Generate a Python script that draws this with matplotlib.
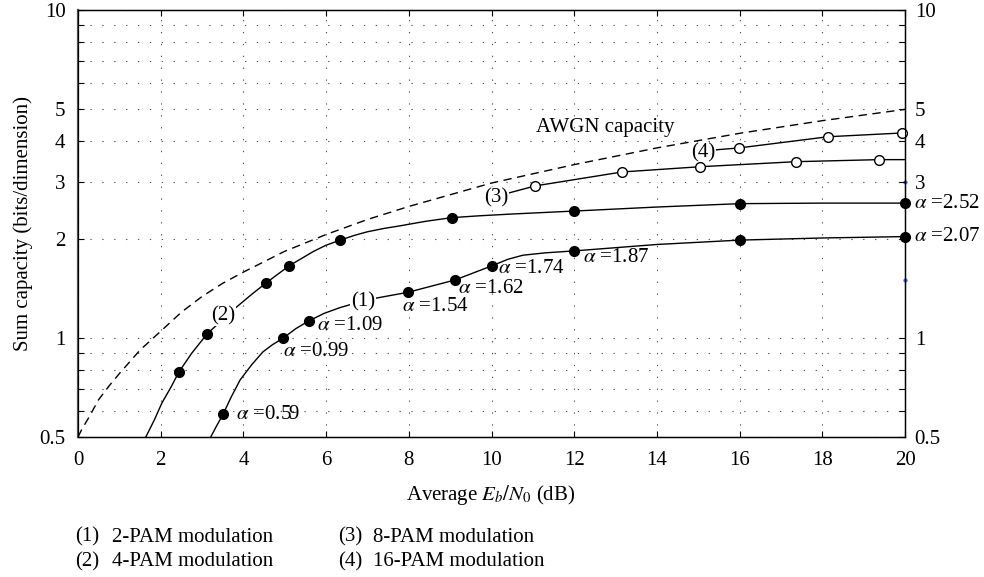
import numpy as np
import matplotlib
matplotlib.use("Agg")
import matplotlib.pyplot as plt
from matplotlib.ticker import FixedLocator, FixedFormatter, NullLocator

plt.rcParams['font.family'] = 'serif'
plt.rcParams['font.serif'] = ['Liberation Serif', 'DejaVu Serif']
plt.rcParams['mathtext.fontset'] = 'stix'

FS = 15

# AWGN capacity (dashed)
awgn_x = [0, 0.1, 0.25, 0.5, 0.75, 1, 1.5, 2, 2.5, 3, 3.5, 4, 5, 6, 7, 8, 10, 12, 14, 16, 18, 20]
awgn_y = [0.5, 0.53, 0.57, 0.65, 0.715, 0.78, 0.92, 1.05, 1.20, 1.34, 1.47, 1.59, 1.84, 2.07, 2.30, 2.52,
          2.97, 3.38, 3.80, 4.21, 4.60, 4.98]

# (1) 2-PAM
pam2_x = [3.21, 3.35, 3.51, 3.7, 3.92, 4.2, 4.47, 4.7, 4.96, 5.27, 5.59, 5.95, 6.34, 7.0, 7.98, 9.12,
          10.0, 10.4, 10.76, 11.3, 12, 14, 16, 18, 20]
pam2_y = [0.5, 0.54, 0.587, 0.66, 0.746, 0.83, 0.908, 0.955, 1.0, 1.07, 1.13, 1.19, 1.24, 1.31, 1.38, 1.505,
          1.66, 1.74, 1.79, 1.82, 1.845, 1.93, 1.99, 2.02, 2.04]
pam2_mx = [3.51, 4.96, 5.59, 7.98, 9.12, 10.0, 12, 16, 20]
pam2_my = [0.587, 1.0, 1.13, 1.38, 1.505, 1.66, 1.845, 1.99, 2.04]
pam2_alpha = ['0.59', '0.99', '1.09', '1.54', '1.62', '1.74', '1.87', '', '2.07']
pam2_off = [(9, 0), (0, -9.5), (6, -3.5), (-4, -10), (2, -6), (5, -2), (6, -5), (0, 0), (6.5, 0)]

# (2) 4-PAM
pam4_x = [1.64, 1.85, 2.03, 2.25, 2.44, 2.75, 3.12, 3.5, 3.82, 4.2, 4.55, 5.10, 5.7, 6.0, 6.34, 6.7,
          7.0, 7.4, 7.79, 8.4, 9.04, 9.7, 10.5, 12, 14, 16, 18, 20]
pam4_y = [0.5, 0.565, 0.635, 0.71, 0.789, 0.90, 1.03, 1.14, 1.24, 1.36, 1.474, 1.66, 1.84, 1.92, 1.99, 2.06,
          2.11, 2.16, 2.20, 2.27, 2.33, 2.36, 2.39, 2.44, 2.51, 2.57, 2.58, 2.58]
pam4_mx = [2.44, 3.12, 4.55, 5.10, 6.34, 9.04, 12, 16, 20]
pam4_my = [0.789, 1.03, 1.474, 1.66, 1.99, 2.33, 2.44, 2.57, 2.58]

# (3) 8-PAM
pam8_x = [10.42, 11.05, 13.16, 15.04, 17.36, 19.37, 20]
pam8_y = [2.77, 2.91, 3.21, 3.33, 3.45, 3.50, 3.50]
pam8_mx = [11.05, 13.16, 15.04, 17.36, 19.37]
pam8_my = [2.91, 3.21, 3.33, 3.45, 3.50]

# (4) 16-PAM
pam16_x = [15.43, 15.99, 18.14, 19.93]
pam16_y = [3.75, 3.80, 4.11, 4.22]

y_ticks = [0.5, 0.6, 0.7, 0.8, 0.9, 1, 2, 3, 4, 5, 6, 7, 8, 9, 10]
y_labels = ['0.5', '', '', '', '', '1', '2', '3', '4', '5', '', '', '', '', '10']
y_labels_right = ['0.5', '', '', '', '', '1', '', '3', '4', '5', '', '', '', '', '10']
x_ticks = [0, 2, 4, 6, 8, 10, 12, 14, 16, 18, 20]

fig = plt.figure(figsize=(9.84, 5.77), dpi=100)
ax = fig.add_axes([78 / 984, 1 - 437 / 577, (905 - 78) / 984, (437 - 10) / 577])

ax.set_yscale('log')
ax.set_xlim(0, 20)
ax.set_ylim(0.5, 10)

ax.plot(awgn_x, awgn_y, color='black', lw=1, dashes=(6, 4))
ax.plot(pam2_x, pam2_y, color='black', lw=1)
ax.plot(pam4_x, pam4_y, color='black', lw=1)
ax.plot(pam8_x, pam8_y, color='black', lw=1)
ax.plot(pam16_x, pam16_y, color='black', lw=1)

ax.plot(pam2_mx, pam2_my, 'o', color='black', ms=7, clip_on=False, zorder=5)
ax.plot(pam4_mx, pam4_my, 'o', color='black', ms=7, clip_on=False, zorder=5)
ax.plot(pam8_mx, pam8_my, 'o', mfc='white', mec='black', mew=1, ms=7, clip_on=False, zorder=5)
ax.plot(pam16_x[1:], pam16_y[1:], 'o', mfc='white', mec='black', mew=1, ms=7, clip_on=False, zorder=5)

# small blue dots on the right edge
ax.plot([20, 20], [3.0, 1.5], 'o', color='#3355bb', ms=2, clip_on=False, zorder=6)

for x, y, a, off in zip(pam2_mx, pam2_my, pam2_alpha, pam2_off):
    if a:
        ax.annotate(r'$\alpha$ =' + a, (x, y), xytext=off, textcoords='offset points',
                    ha='left', va='center', fontsize=FS, annotation_clip=False)
ax.annotate(r'$\alpha$ =2.52', (pam4_mx[-1], pam4_my[-1]), xytext=(6.5, 0),
            textcoords='offset points', ha='left', va='center', fontsize=FS,
            annotation_clip=False)

box = dict(facecolor='white', edgecolor='none', pad=0.5)
ax.text(6.89, 1.29, '(1)', ha='center', va='center', fontsize=FS, bbox=box, zorder=4)
ax.text(3.51, 1.17, '(2)', ha='center', va='center', fontsize=FS, bbox=box, zorder=4)
ax.text(10.11, 2.68, '(3)', ha='center', va='center', fontsize=FS, bbox=box, zorder=4)
ax.text(15.11, 3.67, '(4)', ha='center', va='center', fontsize=FS, bbox=box, zorder=4)
ax.text(12.74, 4.37, 'AWGN capacity', ha='center', va='center', fontsize=FS)

ax.yaxis.set_major_locator(FixedLocator(y_ticks))
ax.yaxis.set_major_formatter(FixedFormatter(y_labels))
ax.yaxis.set_minor_locator(NullLocator())
ax.set_xticks(x_ticks)
ax.grid(True, which='major', color='#555555', lw=0.8, linestyle=(0, (1.2, 9.5)))
ax.tick_params(direction='in', top=True, right=True, length=4, labelsize=FS, pad=9)
ax.tick_params(axis='x', pad=10)

ax2 = ax.twinx()
ax2.set_yscale('log')
ax2.set_ylim(0.5, 10)
ax2.yaxis.set_major_locator(FixedLocator(y_ticks))
ax2.yaxis.set_major_formatter(FixedFormatter(y_labels_right))
ax2.yaxis.set_minor_locator(NullLocator())
ax2.tick_params(direction='in', length=4, labelsize=FS, pad=7)

for sp in ax.spines.values():
    sp.set_linewidth(1)
ax.spines['left'].set_color('#555555')
ax.spines['left'].set_linewidth(1.6)

ax.set_ylabel('Sum capacity (bits/dimension)', fontsize=FS)
ax.yaxis.set_label_coords(-0.055, 0.5)
fig.text(491 / 984, 1 - 495 / 577, 'Average $E_b/N_0$ (dB)', ha='center', va='center', fontsize=FS)

# legend below the plot
fig.text(75 / 984, 1 - 537 / 577, '(1)', ha='left', va='center', fontsize=FS)
fig.text(112 / 984, 1 - 537 / 577, '2-PAM modulation', ha='left', va='center', fontsize=FS)
fig.text(75 / 984, 1 - 562 / 577, '(2)', ha='left', va='center', fontsize=FS)
fig.text(112 / 984, 1 - 562 / 577, '4-PAM modulation', ha='left', va='center', fontsize=FS)
fig.text(338 / 984, 1 - 537 / 577, '(3)', ha='left', va='center', fontsize=FS)
fig.text(373 / 984, 1 - 537 / 577, '8-PAM modulation', ha='left', va='center', fontsize=FS)
fig.text(338 / 984, 1 - 562 / 577, '(4)', ha='left', va='center', fontsize=FS)
fig.text(373 / 984, 1 - 562 / 577, '16-PAM modulation', ha='left', va='center', fontsize=FS)

fig.savefig('out.png', dpi=100)
